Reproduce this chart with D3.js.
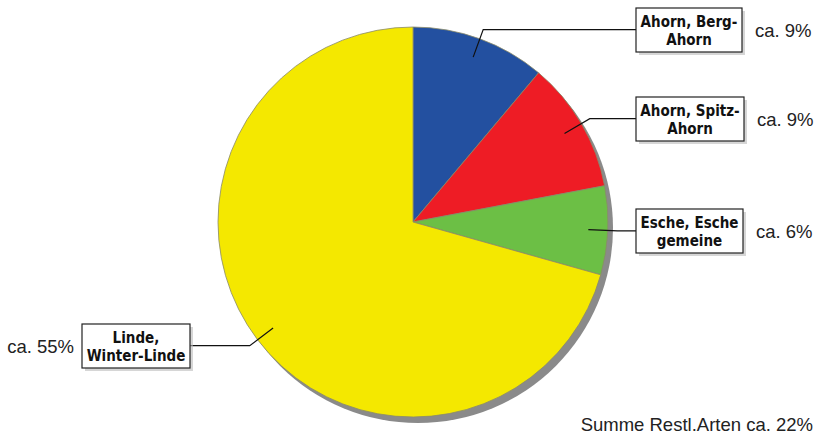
<!DOCTYPE html>
<html><head><meta charset="utf-8">
<script src="https://cdn.jsdelivr.net/npm/d3@7"></script>
<style>body{margin:0;background:#fff}svg{display:block}</style>
</head><body>
<svg id="c" width="820" height="439"></svg>
<script>
const categories = ["Ahorn, Berg-|Ahorn", "Ahorn, Spitz-|Ahorn", "Esche, Esche|gemeine", "Linde,|Winter-Linde"];
const values = [8.8, 8.6, 5.8, 55.8];
const pctLabels = ["ca. 9%", "ca. 9%", "ca. 6%", "ca. 55%"];
const colors = ["#2350a0", "#ee1c25", "#6cbf45", "#f4e800"];
const footnote = "Summe Restl.Arten ca. 22%";

const W = 820, H = 439;
const cx = 413, cy = 222, R = 195;
const svg = d3.select("#c");

const data = categories.map((c, i) => ({cat: c, value: values[i], pct: pctLabels[i], color: colors[i]}));
const pie = d3.pie().sort(null).value(d => d.value);
const arcs = pie(data);
const arc = d3.arc().innerRadius(0).outerRadius(R);

const g = svg.append("g").attr("transform", `translate(${cx},${cy})`);
// shadow
g.append("circle").attr("cx", 5).attr("cy", 6).attr("r", R).attr("fill", "#8a8a8a");
g.selectAll("path.slice").data(arcs).join("path")
  .attr("class", "slice")
  .attr("d", arc)
  .attr("fill", d => d.data.color)
  .attr("stroke", "#8a8a6a").attr("stroke-width", 0.8);

const font = "'DejaVu Sans Condensed', 'DejaVu Sans', Verdana, sans-serif";
const pctFont = "'Liberation Sans', Arial, sans-serif";

function pt(a, r) { return [Math.sin(a) * r, -Math.cos(a) * r]; }

arcs.forEach(d => {
  const mid = (d.startAngle + d.endAngle) / 2;
  const p0 = pt(mid, R * 0.9);
  const p1 = pt(mid, R * 1.05);
  const right = Math.sin(mid) > 0;
  const lines = d.data.cat.split("|");
  const tg = svg.append("g");
  const txt = tg.append("text").attr("font-family", font).attr("font-weight", "bold")
    .attr("font-stretch", "condensed")
    .attr("font-size", 15).attr("fill", "#111").attr("text-anchor", "middle");
  lines.forEach((l, i) => txt.append("tspan").attr("x", 0).attr("dy", i === 0 ? 0 : 18).text(l));
  const bb = txt.node().getBBox();
  const bw = Math.round(bb.width + 9), bh = 44;
  const ly = cy + p1[1];
  const by = Math.round(ly - bh / 2);
  const bx = right ? 636 : 190 - bw;
  const endX = right ? bx : bx + bw;
  svg.insert("path", () => tg.node())
    .attr("d", `M${cx + p0[0]},${cy + p0[1]}L${cx + p1[0]},${ly}L${endX},${ly}`)
    .attr("fill", "none").attr("stroke", "#111").attr("stroke-width", 1.2);
  tg.insert("rect", "text").attr("x", bx + 3).attr("y", by + 3).attr("width", bw).attr("height", bh)
    .attr("fill", "#bbb").attr("opacity", 0.6);
  tg.insert("rect", "text").attr("x", bx).attr("y", by).attr("width", bw).attr("height", bh)
    .attr("fill", "#fff").attr("stroke", "#222").attr("stroke-width", 1.2);
  txt.attr("transform", `translate(${bx + bw / 2},${by + 19})`);
  svg.append("text").attr("font-family", pctFont).attr("font-size", 18.5).attr("fill", "#222")
    .attr("x", right ? bx + bw + 13 : bx - 8).attr("y", by + bh / 2 + 7)
    .attr("text-anchor", right ? "start" : "end").text(d.data.pct);
});

svg.append("text").attr("font-family", pctFont).attr("font-size", 18.5).attr("fill", "#222")
  .attr("x", 813).attr("y", 431).attr("text-anchor", "end").text(footnote);
</script>
</body></html>
